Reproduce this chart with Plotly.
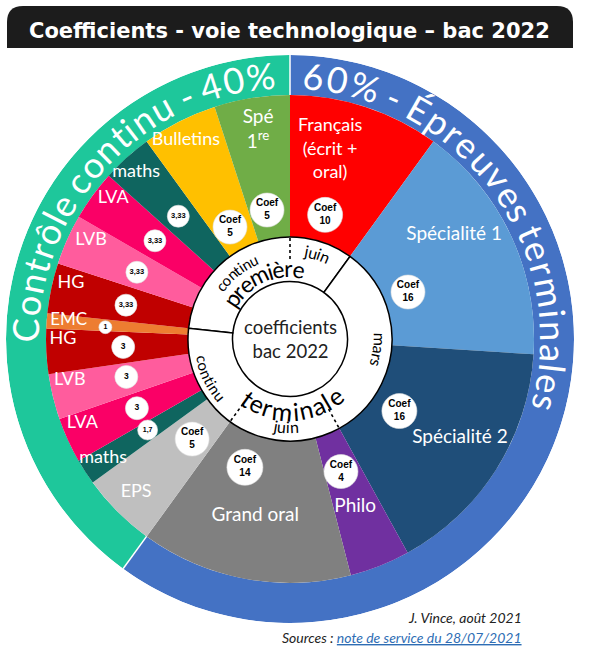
import math
import plotly.graph_objects as go

# ------------------------------------------------------------------ data
subjects = ["Français (écrit + oral)", "Spécialité 1", "Spécialité 2", "Philo", "Grand oral",
            "EPS", "maths", "LVA", "LVB", "HG", "EMC",
            "HG", "LVB", "LVA", "maths", "Bulletins", "Spé 1re"]
coefficients = [10, 16, 16, 4, 14, 5, 1.7, 3, 3, 3, 1, 3.33, 3.33, 3.33, 3.33, 5, 5]
coef_labels = ["Coef<br>10", "Coef<br>16", "Coef<br>16", "Coef<br>4", "Coef<br>14", "Coef<br>5",
               "1,7", "3", "3", "3", "1", "3,33", "3,33", "3,33", "3,33", "Coef<br>5", "Coef<br>5"]
sector_labels = ["Français<br>(écrit +<br>oral)", "Spécialité 1", "Spécialité 2", "Philo",
                 "Grand oral", "EPS", "maths", "LVA", "LVB", "HG", "EMC", "HG", "LVB", "LVA",
                 "maths", "Bulletins", "Spé<br>1<sup>re</sup>"]
periods = ["première", "terminale", "terminale", "terminale", "terminale", "terminale",
           "terminale", "terminale", "terminale", "terminale", "terminale",
           "première", "première", "première", "première", "première", "première"]
timings = ["juin", "mars", "mars", "juin", "juin", "continu", "continu", "continu", "continu",
           "continu", "continu", "continu", "continu", "continu", "continu", "continu", "continu"]
assessment_groups = ["60% - Épreuves terminales", "Contrôle continu - 40%"]
assessment_shares = [60, 40]
title_text = "Coefficients - voie technologique – bac 2022"
center_text = "coefficients<br>bac 2022"
credit_text = "J. Vince, août 2021"
source_label = "Sources : "
source_link = "note de service du 28/07/2021"

# ------------------------------------------------------------------ style / layout
W, H = 601, 651
CX, CY = 290, 339
R_OUT, R_RING, R_SECT, R_INNER = 284, 244, 102, 57.5

sector_colors = ["#ff0000", "#5b9bd5", "#1f4e79", "#7030a0", "#808080", "#bfbfbf",
                 "#0f655f", "#fa0066", "#ff5c9d", "#c00000", "#ed7d31",
                 "#c00000", "#ff5c9d", "#fa0066", "#0f655f", "#ffc000", "#70ad47"]
ring_colors = ["#4472c4", "#1ec79b"]

label_radius = [193, 194, 197, 180, 181, 217, 222, 224, 224, 227, 222, 226, 222, 226, 227, 224, 211]
label_offset = [-6, -7, -2, 0.4, 0.3, 0.2, 0.3, 2.5, 3.1, 2.9, 0.4, 2.2, 2.3, 2.5, -0.7, -0.7, 0.3]
label_size = [18, 19, 19, 19, 19, 18, 18, 18, 18, 18, 17, 18, 18, 18, 18, 18, 19]
badge_radius = [129, 127, 131, 142, 136, 140, 169, 168, 168, 167, 185, 167.5, 167, 167, 166, 127, 131]
badge_offset = [-2.2, 3.5, 1, 0.6, 8.6, -0.6, 0.4, 0.2, 0.7, 0.2, -0.6, -0.4, -0.5, 0, -0.3, -1.2, -1.1]
badge_size = [35, 34, 35, 34, 36, 34, 20, 23, 23, 23, 13, 22, 22, 22, 22, 34, 34]
badge_font = [10, 10, 10, 10, 10, 10, 7, 8.5, 8.5, 8.5, 7, 7.5, 7.5, 7.5, 7.5, 10, 10]

# ------------------------------------------------------------------ geometry from data
total = sum(coefficients)
deg = [c / total * 360 for c in coefficients]
starts, acc = [], 0.0
for d in deg:
    starts.append(acc)
    acc += d
ends = [s + d for s, d in zip(starts, deg)]
mids = [s + d / 2 for s, d in zip(starts, deg)]
n = len(subjects)

fig = go.Figure()

# outer ring (assessment type)
ring_deg = [s / sum(assessment_shares) * 360 for s in assessment_shares]
ring_start = [0, ring_deg[0]]
fig.add_trace(go.Barpolar(
    r=[R_OUT - R_RING] * 2, base=[R_RING] * 2,
    theta=[s + d / 2 for s, d in zip(ring_start, ring_deg)], width=ring_deg,
    marker=dict(color=ring_colors, line=dict(width=0)), hoverinfo="skip", showlegend=False))
fig.add_trace(go.Scatterpolar(
    r=[R_RING, R_OUT, None, R_RING, R_OUT], theta=[ring_start[0], ring_start[0], None, ring_start[1], ring_start[1]],
    mode="lines", line=dict(color="white", width=1.5), hoverinfo="skip", showlegend=False))

# subject sectors
fig.add_trace(go.Barpolar(
    r=[R_RING - R_SECT] * n, base=[R_SECT] * n, theta=mids, width=deg,
    marker=dict(color=sector_colors, line=dict(width=0)), hoverinfo="skip", showlegend=False))

# period annulus (première / terminale)
for p in ["première", "terminale"]:
    idx = [i for i in range(n) if periods[i] == p]
    first = [i for i in idx if periods[i - 1] != p][0]
    last = [i for i in idx if periods[(i + 1) % n] != p][0]
    a0 = starts[first]
    a1 = ends[last]
    if a1 <= a0:
        a1 += 360
    fig.add_trace(go.Barpolar(
        r=[R_SECT - R_INNER], base=[R_INNER], theta=[(a0 + a1) / 2], width=[a1 - a0],
        marker=dict(color="white", line=dict(color="black", width=1.5)),
        hoverinfo="skip", showlegend=False))

# dotted dividers between timings inside a period
dr, dt = [], []
for i in range(n):
    if periods[i] == periods[i - 1] and timings[i] != timings[i - 1]:
        dr += [80, R_SECT, None]
        dt += [starts[i], starts[i], None]
fig.add_trace(go.Scatterpolar(r=dr, theta=dt, mode="lines",
                              line=dict(color="black", width=1.6, dash="dot"),
                              hoverinfo="skip", showlegend=False))

# sector labels
fig.add_trace(go.Scatterpolar(
    r=label_radius, theta=[m + o for m, o in zip(mids, label_offset)],
    mode="text", text=sector_labels, textposition="middle center",
    textfont=dict(family="Lato", size=label_size, color="white"),
    hoverinfo="skip", showlegend=False))

# coefficient badges
fig.add_trace(go.Scatterpolar(
    r=badge_radius, theta=[m + o for m, o in zip(mids, badge_offset)],
    mode="markers+text", text=["<b>%s</b>" % t for t in coef_labels], textposition="middle center",
    marker=dict(color="white", opacity=1, size=badge_size, line=dict(color="#e0e0e0", width=0.6)),
    textfont=dict(family="Liberation Sans", size=badge_font, color="black"),
    hoverinfo="skip", showlegend=False))

# ------------------------------------------------------------------ curved texts
CW = {' ': 0.19, '-': 0.36, '%': 0.78, '0': 0.58, '4': 0.58, '6': 0.58,
      'C': 0.66, 'É': 0.56, 'a': 0.5, 'c': 0.46, 'e': 0.52, 'é': 0.52, 'è': 0.52,
      'i': 0.24, 'j': 0.24, 'l': 0.24, 'm': 0.83, 'n': 0.56, 'o': 0.56, 'ô': 0.56,
      'p': 0.56, 'r': 0.37, 's': 0.42, 't': 0.36, 'u': 0.56, 'v': 0.5}

annotations = []


def to_paper(r, th):
    x = CX + r * math.sin(math.radians(th))
    y = CY - r * math.cos(math.radians(th))
    return x / W, 1 - y / H


def arc_text(text, r, size, color, center=None, span=None, outward=True, family="Lato"):
    widths = [CW.get(c, 0.55) * size for c in text]
    tot = sum(widths)
    if span is None:
        half = math.degrees(tot / r) / 2
        span = (center - half, center + half)
    th0, th1 = span
    a = 0.0
    for c, w in zip(text, widths):
        frac = (a + w / 2) / tot
        a += w
        if c == ' ':
            continue
        if outward:
            th = th0 + frac * (th1 - th0)
            ang = th
        else:
            th = th1 - frac * (th1 - th0)
            ang = th - 180
        ang = ((ang + 180) % 360) - 180
        x, y = to_paper(r, th)
        annotations.append(dict(x=x, y=y, xref="paper", yref="paper", text=c, showarrow=False,
                                textangle=ang, xanchor="center", yanchor="middle",
                                font=dict(family=family, size=size, color=color)))


arc_text(assessment_groups[1], 265, 36, "white", span=(269, 357))
arc_text(assessment_groups[0], 264, 36, "white", span=(2.5, 106))
arc_text("continu", 87, 15, "black", center=321.5)
arc_text("juin", 90, 16, "black", center=17.8)
arc_text(periods[0], 71, 23, "black", center=335.5)
arc_text("mars", 90, 16, "black", center=97)
arc_text(periods[1], 72, 25, "black", center=178, outward=False)
arc_text("juin", 88, 16, "black", center=182.6, outward=False)
arc_text("continu", 90, 15, "black", center=244, outward=False)

# centre text
annotations.append(dict(x=CX / W, y=1 - 339 / H, xref="paper", yref="paper",
                        text=center_text, showarrow=False, xanchor="center", yanchor="middle",
                        font=dict(family="Lato", size=18.5, color="#222222")))

# title
annotations.append(dict(x=289 / W, y=1 - 31 / H, xref="paper", yref="paper",
                        text="<b>%s</b>" % title_text, showarrow=False,
                        xanchor="center", yanchor="middle",
                        font=dict(family="DejaVu Sans", size=21, color="white")))

# credits
annotations.append(dict(x=524 / W, y=1 - 617 / H, xref="paper", yref="paper",
                        text="<i>%s</i>" % credit_text, showarrow=False,
                        xanchor="right", yanchor="middle",
                        font=dict(family="Lato", size=14, color="#222222")))
annotations.append(dict(x=524 / W, y=1 - 637 / H, xref="paper", yref="paper",
                        text="<i>%s<span style='color:#2e6db4'><u>%s</u></span></i>" % (source_label, source_link),
                        showarrow=False, xanchor="right", yanchor="middle",
                        font=dict(family="Lato", size=14, color="#222222")))

# title box (rounded top corners)
x0, x1 = 7 / W, 573 / W
yt, yb = 1 - 6 / H, 1 - 48 / H
rx, ry = 16 / W, 16 / H
path = (f"M {x0},{yb} L {x0},{yt - ry} Q {x0},{yt} {x0 + rx},{yt} "
        f"L {x1 - rx},{yt} Q {x1},{yt} {x1},{yt - ry} L {x1},{yb} Z")
shapes = [dict(type="path", path=path, xref="paper", yref="paper",
               fillcolor="#1c1c1c", line=dict(width=0), layer="above")]

fig.update_layout(
    width=W, height=H, margin=dict(l=0, r=0, t=0, b=0),
    paper_bgcolor="white", plot_bgcolor="white",
    showlegend=False,
    polar=dict(
        domain=dict(x=[(CX - R_OUT) / W, (CX + R_OUT) / W],
                    y=[(H - CY - R_OUT) / H, (H - CY + R_OUT) / H]),
        bgcolor="white", bargap=0, barmode="overlay", hole=0,
        radialaxis=dict(visible=False, range=[0, R_OUT], autorange=False),
        angularaxis=dict(visible=False, direction="clockwise", rotation=90),
    ),
    annotations=annotations,
    shapes=shapes,
)

fig.write_html("out.html", config={"displayModeBar": False},
               post_script="document.body.style.margin='0';")
